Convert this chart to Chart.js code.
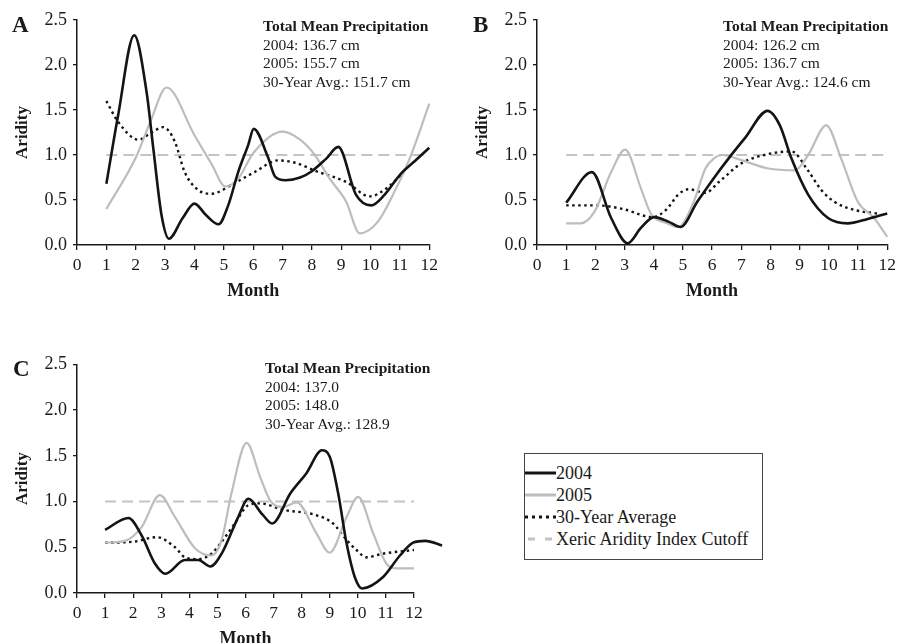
<!DOCTYPE html>
<html>
<head>
<meta charset="utf-8">
<script src="https://cdn.jsdelivr.net/npm/chart.js@4.4.1/dist/chart.umd.min.js"></script>
<style>
html,body{margin:0;padding:0;background:#fff;width:901px;height:643px;overflow:hidden;
  font-family:"Liberation Serif","Times New Roman",serif;color:#1a1a1a;}
canvas{position:absolute;}
.note{position:absolute;font-size:15.5px;line-height:18.7px;white-space:nowrap;}
.note b{font-weight:bold;}
.panel{position:absolute;font-weight:bold;font-size:23px;line-height:23px;}
#legend{position:absolute;left:524px;top:453px;width:239px;height:107px;border:1px solid #444;box-sizing:border-box;}
.lrow{position:absolute;left:0;height:22px;line-height:22px;font-size:18px;white-space:nowrap;}
.lrow svg{position:absolute;left:0;top:0;}
.lrow span{position:absolute;left:31px;top:0;}
</style>
</head>
<body>
<canvas id="cA" width="450" height="310" style="left:0;top:0;"></canvas>
<canvas id="cB" width="451" height="310" style="left:450px;top:0;"></canvas>
<canvas id="cC" width="450" height="338" style="left:0;top:320px;"></canvas>

<div class="panel" style="left:12px;top:13px;">A</div>
<div class="panel" style="left:473px;top:13px;">B</div>
<div class="panel" style="left:13px;top:357px;">C</div>

<div class="note" style="left:263px;top:17px;"><b>Total Mean Precipitation</b><br>2004: 136.7 cm<br>2005: 155.7 cm<br>30-Year Avg.: 151.7 cm</div>
<div class="note" style="left:723px;top:17px;"><b>Total Mean Precipitation</b><br>2004: 126.2 cm<br>2005: 136.7 cm<br>30-Year Avg.: 124.6 cm</div>
<div class="note" style="left:265px;top:359px;"><b>Total Mean Precipitation</b><br>2004: 137.0<br>2005: 148.0<br>30-Year Avg.: 128.9</div>

<div id="legend">
  <div class="lrow" style="top:8px;"><svg width="32" height="22"><line x1="0" y1="11" x2="31" y2="11" stroke="#141414" stroke-width="3"/></svg><span>2004</span></div>
  <div class="lrow" style="top:30px;"><svg width="32" height="22"><line x1="0" y1="11" x2="31" y2="11" stroke="#bdbdbd" stroke-width="3"/></svg><span>2005</span></div>
  <div class="lrow" style="top:52px;"><svg width="32" height="22"><line x1="0" y1="11" x2="31" y2="11" stroke="#141414" stroke-width="3" stroke-dasharray="3,4"/></svg><span>30-Year Average</span></div>
  <div class="lrow" style="top:74px;"><svg width="32" height="22"><line x1="3" y1="11" x2="31" y2="11" stroke="#c4c4c4" stroke-width="3" stroke-dasharray="7,10"/></svg><span>Xeric Aridity Index Cutoff</span></div>
</div>

<script>
// ---------- DATA (month, aridity) ----------
const seriesNames = ['2004', '2005', '30-Year Average', 'Xeric Aridity Index Cutoff'];
const xTicks = [0,1,2,3,4,5,6,7,8,9,10,11,12];
const yTicks = [0.0,0.5,1.0,1.5,2.0,2.5];
const cutoffMonths = [1, 12];
const cutoffValues = [1.0, 1.0];

// Panel A
const aMonths04 = [1, 1.4, 1.95, 2.37, 2.6, 2.88, 3.13, 3.6, 4.0, 4.4, 4.82, 5.15, 5.49, 5.83, 6.02, 6.5, 6.75, 7.1, 7.6, 8.0, 8.49, 8.9, 9.5, 10.02, 10.48, 11.0, 11.5, 12];
const aArid04   = [0.68, 1.44, 2.33, 1.70, 1.07, 0.33, 0.07, 0.30, 0.46, 0.33, 0.23, 0.44, 0.81, 1.11, 1.29, 0.98, 0.76, 0.72, 0.75, 0.82, 0.96, 1.09, 0.56, 0.44, 0.56, 0.78, 0.93, 1.08];
const aMonths05 = [1, 2, 2.5, 3.05, 4, 4.6, 5.05, 5.5, 6, 7.0, 7.6, 8.1, 8.6, 9.17, 9.63, 10.25, 10.87, 11.38, 12];
const aArid05   = [0.40, 0.97, 1.37, 1.75, 1.22, 0.89, 0.65, 0.74, 1.02, 1.26, 1.17, 1.0, 0.74, 0.48, 0.13, 0.26, 0.63, 1.0, 1.57];
const aMonthsAvg = [1, 1.4, 2.09, 2.5, 2.94, 3.33, 3.67, 4.13, 4.58, 5.37, 6.05, 6.85, 7.47, 8.15, 9.17, 9.97, 10.5, 11.1];
const aAridAvg   = [1.60, 1.37, 1.17, 1.24, 1.31, 1.15, 0.81, 0.61, 0.57, 0.69, 0.81, 0.94, 0.91, 0.82, 0.70, 0.54, 0.62, 0.80];

// Panel B
const bMonths04 = [1, 1.88, 2.54, 3.11, 3.56, 4.01, 4.5, 4.92, 5.49, 6.05, 6.56, 7.13, 7.9, 8.32, 8.72, 9.29, 9.97, 10.65, 11.33, 12];
const bArid04   = [0.47, 0.81, 0.30, 0.02, 0.19, 0.31, 0.26, 0.20, 0.48, 0.74, 0.96, 1.19, 1.49, 1.33, 0.96, 0.56, 0.30, 0.24, 0.29, 0.35];
const bMonths05 = [1, 1.5, 1.97, 2.54, 3.02, 3.56, 3.9, 4.47, 4.85, 5.37, 5.77, 6.05, 6.34, 7.02, 7.93, 8.83, 9.29, 9.91, 10.42, 10.99, 11.55, 12];
const bArid05   = [0.24, 0.24, 0.37, 0.81, 1.06, 0.63, 0.35, 0.24, 0.20, 0.48, 0.85, 0.96, 1.0, 0.94, 0.85, 0.83, 1.0, 1.33, 0.96, 0.48, 0.30, 0.09];
const bMonthsAvg = [1, 2.04, 2.94, 3.96, 4.42, 4.87, 5.21, 5.77, 6.23, 7.02, 7.92, 8.72, 9.28, 9.74, 10.19, 10.87, 11.66];
const bAridAvg   = [0.44, 0.44, 0.40, 0.31, 0.39, 0.57, 0.62, 0.58, 0.70, 0.91, 1.01, 1.04, 0.83, 0.61, 0.48, 0.39, 0.35];

// Panel C
const cMonths04 = [1, 1.83, 2.3, 2.78, 3.15, 3.84, 4.32, 4.75, 5.15, 5.74, 6.1, 6.6, 6.95, 7.6, 8.17, 8.72, 9.0, 9.3, 9.6, 9.89, 10.15, 10.9, 11.5, 11.97, 12.4, 13.0];
const cArid04   = [0.69, 0.82, 0.63, 0.32, 0.21, 0.36, 0.36, 0.29, 0.43, 0.83, 1.03, 0.86, 0.76, 1.09, 1.31, 1.56, 1.49, 1.09, 0.54, 0.175, 0.05, 0.175, 0.41, 0.55, 0.57, 0.52];
const cMonths05 = [1, 1.71, 2.3, 2.95, 3.49, 4.2, 4.79, 5.15, 5.5, 6.04, 6.52, 6.88, 7.34, 7.82, 8.53, 9.0, 9.6, 10.01, 10.55, 11.02, 11.38, 12];
const cArid05   = [0.55, 0.57, 0.72, 1.07, 0.83, 0.49, 0.41, 0.58, 1.09, 1.64, 1.27, 1.01, 0.94, 0.99, 0.65, 0.44, 0.83, 1.05, 0.65, 0.32, 0.27, 0.27];
const cMonthsAvg = [1, 2.0, 2.84, 3.49, 3.84, 4.32, 4.79, 5.15, 5.62, 6.1, 6.51, 7.34, 8.53, 9.12, 9.6, 9.95, 10.31, 10.9, 12];
const cAridAvg   = [0.55, 0.56, 0.61, 0.50, 0.39, 0.37, 0.43, 0.56, 0.76, 0.96, 0.98, 0.91, 0.85, 0.76, 0.58, 0.47, 0.39, 0.43, 0.47];

// ---------- CHARTS ----------
const FONT = 'Liberation Serif';
const INK = '#1a1a1a';
const pts = (xs, ys) => xs.map((x, i) => ({x: x, y: ys[i]}));

function makeChart(id, layout, data04, data05, dataAvg) {
  const styles = [
    {borderColor:'#141414', borderWidth:2.6, borderDash:[]},
    {borderColor:'#bdbdbd', borderWidth:2.2, borderDash:[]},
    {borderColor:'#141414', borderWidth:2.4, borderDash:[2.5,3.5]},
    {borderColor:'#c4c4c4', borderWidth:2, borderDash:[11,6]}
  ];
  const sets = [data04, data05, dataAvg, pts(cutoffMonths, cutoffValues)];
  return new Chart(document.getElementById(id), {
    type: 'line',
    data: {
      datasets: sets.map((d, i) => Object.assign({
        label: seriesNames[i], data: d, fill: false, pointRadius: 0,
        cubicInterpolationMode: 'monotone', clip: false
      }, styles[i]))
    },
    options: {
      responsive: false, animation: false, devicePixelRatio: 1,
      layout: {padding: {left: 0, top: layout.top, right: layout.right, bottom: 0}},
      plugins: {legend: {display: false}, tooltip: {enabled: false}},
      scales: {
        x: {
          type: 'linear',
          afterDataLimits: s => { s.min = xTicks[0]; s.max = xTicks[xTicks.length - 1]; },
          afterFit: s => { s.height = 65; },
          ticks: {stepSize: 1, autoSkip: false, maxRotation: 0, color: INK, padding: 5,
                  font: {family: FONT, size: 17.5}},
          grid: {drawOnChartArea: false, drawTicks: true, tickLength: 5, color: INK, lineWidth: 1.3},
          border: {display: true, color: INK, width: 1.5},
          title: {display: true, text: 'Month', color: INK, padding: {top: 0, bottom: 8},
                  font: {family: FONT, size: 18, weight: 'bold'}}
        },
        y: {
          min: yTicks[0], max: yTicks[yTicks.length - 1],
          afterFit: s => { s.width = layout.yWidth; },
          ticks: {stepSize: 0.5, color: INK, padding: 6, font: {family: FONT, size: 18},
                  callback: v => Number(v).toFixed(1)},
          grid: {drawOnChartArea: false, drawTicks: true, tickLength: 4, color: INK, lineWidth: 1.3},
          border: {display: true, color: INK, width: 1.5},
          title: {display: true, text: 'Aridity', color: INK, padding: {top: layout.titlePad, bottom: 0},
                  font: {family: FONT, size: 17, weight: 'bold'}}
        }
      }
    }
  });
}

makeChart('cA', {top: 20, right: 20.7, yWidth: 77, titlePad: 12},
  pts(aMonths04, aArid04), pts(aMonths05, aArid05), pts(aMonthsAvg, aAridAvg));
makeChart('cB', {top: 20, right: 11, yWidth: 87, titlePad: 22},
  pts(bMonths04, bArid04), pts(bMonths05, bArid05), pts(bMonthsAvg, bAridAvg));
makeChart('cC', {top: 44.3, right: 36, yWidth: 77, titlePad: 12},
  pts(cMonths04, cArid04), pts(cMonths05, cArid05), pts(cMonthsAvg, cAridAvg));
</script>
</body>
</html>
